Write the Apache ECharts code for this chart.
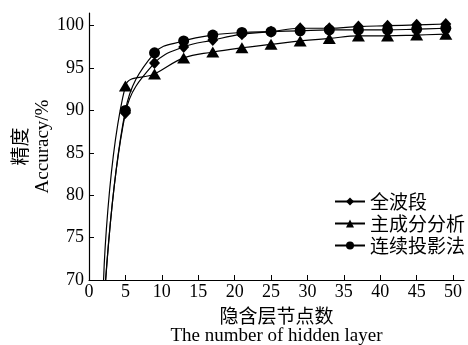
<!DOCTYPE html>
<html>
<head>
<meta charset="utf-8">
<script src="https://cdn.jsdelivr.net/npm/echarts@6/dist/echarts.min.js"></script>
<style>
  html, body { margin: 0; padding: 0; background: #fff; }
  #main { width: 468px; height: 345px; }
</style>
</head>
<body>
<div id="main"></div>
<script>
// 隐含层节点数
var xNodes = [2, 5, 9, 13, 17, 21, 25, 29, 33, 37, 41, 45, 49];
// 全波段
var fullBand = [66, 89.7, 95.6, 97.5, 98.3, 99.0, 99.3, 99.7, 99.7, 99.9, 100.0, 100.1, 100.2];
// 主成分分析
var pca = [70, 92.9, 94.3, 96.2, 96.9, 97.4, 97.8, 98.2, 98.5, 98.8, 98.8, 98.9, 99.0];
// 连续投影法
var spa = [66, 90.0, 96.8, 98.2, 98.9, 99.2, 99.3, 99.4, 99.5, 99.5, 99.5, 99.6, 99.7];

var xTicks = [0, 5, 10, 15, 20, 25, 30, 35, 40, 45, 50];
var yTicks = [70, 75, 80, 85, 90, 95, 100];

var names = ["全波段", "主成分分析", "连续投影法"];

var serif = "Liberation Serif";
var cjk = "Noto Sans CJK SC";

function makeData(vals) {
  // 第一个点不画标记
  return vals.map(function (v, i) {
    var item = { value: [xNodes[i], v] };
    if (i === 0) item.symbol = "none";
    return item;
  });
}

var myChart = echarts.init(document.getElementById("main"));

myChart.setOption({
  animation: false,
  grid: {
    left: 89,
    right: 4,
    top: 13,
    bottom: 65,
    outerBoundsMode: "none"
  },
  legend: {
    orient: "vertical",
    left: 329,
    top: 187,
    itemWidth: 30,
    itemHeight: 10,
    itemGap: 3,
    data: names,
    textStyle: {
      fontFamily: cjk,
      fontSize: 19,
      color: "#000"
    }
  },
  xAxis: {
    type: "value",
    min: 0,
    max: 51.5,
    name: "{cn|隐含层节点数}\n{en|The number of hidden layer}",
    nameLocation: "middle",
    nameGap: 15,
    nameTextStyle: {
      rich: {
        cn: { fontFamily: cjk, fontSize: 19, lineHeight: 22, color: "#000" },
        en: { fontFamily: serif, fontSize: 19, lineHeight: 20, color: "#000" }
      }
    },
    splitLine: { show: false },
    axisLine: { lineStyle: { color: "#000", width: 1.2 } },
    axisTick: { inside: true, length: 5, customValues: xTicks, lineStyle: { color: "#000" } },
    axisLabel: {
      customValues: xTicks,
      margin: 3,
      fontFamily: serif,
      fontSize: 18,
      color: "#000"
    }
  },
  yAxis: {
    type: "value",
    min: 70,
    max: 101.5,
    name: "{cn|精度}\n{en|Accuracy/%}",
    nameLocation: "middle",
    nameRotate: 90,
    nameGap: 35,
    nameMoveOverlap: false,
    nameTextStyle: {
      rich: {
        cn: { fontFamily: cjk, fontSize: 19, lineHeight: 24, color: "#000" },
        en: { fontFamily: serif, fontSize: 19, lineHeight: 22, color: "#000" }
      }
    },
    splitLine: { show: false },
    axisLine: { show: true, lineStyle: { color: "#000", width: 1.2 } },
    axisTick: { show: true, inside: true, length: 5, customValues: yTicks, lineStyle: { color: "#000" } },
    axisLabel: {
      customValues: yTicks,
      margin: 5,
      fontFamily: serif,
      fontSize: 18,
      color: "#000"
    }
  },
  series: [
    {
      name: names[0],
      type: "line",
      smooth: 0.4,
      clip: true,
      symbol: "diamond",
      symbolSize: [11, 12],
      data: makeData(fullBand),
      lineStyle: { color: "#000", width: 1.2 },
      itemStyle: { color: "#000" }
    },
    {
      name: names[1],
      type: "line",
      smooth: 0.4,
      clip: true,
      symbol: "triangle",
      symbolSize: [13, 11],
      data: makeData(pca),
      lineStyle: { color: "#000", width: 1.2 },
      itemStyle: { color: "#000" }
    },
    {
      name: names[2],
      type: "line",
      smooth: 0.4,
      clip: true,
      symbol: "circle",
      symbolSize: 11,
      data: makeData(spa),
      lineStyle: { color: "#000", width: 1.2 },
      itemStyle: { color: "#000" }
    }
  ]
});
</script>
</body>
</html>
